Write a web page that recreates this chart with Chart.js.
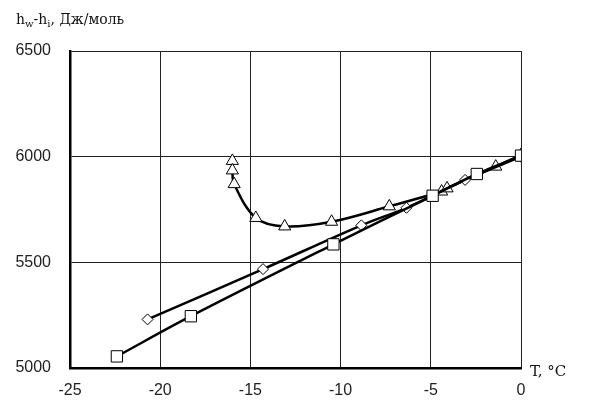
<!DOCTYPE html>
<html>
<head>
<meta charset="utf-8">
<script src="https://cdn.jsdelivr.net/npm/chart.js@4/dist/chart.umd.min.js"></script>
<style>
  html, body { margin: 0; padding: 0; background: #fff; }
  #wrap { width: 593px; height: 400px; }
</style>
</head>
<body>
<div id="wrap"><canvas id="enthalpy"></canvas></div>
<script>
// temperature, °C and enthalpy difference, J/mol for each set of measurements
var squareT   = [-22.4, -18.3, -10.4, -4.9, -2.45, 0];
var squareH   = [5055, 5245, 5585, 5815, 5918, 6005];

var diamondT  = [-20.7, -14.3, -8.85, -6.35, -3.1, 0];
var diamondH  = [5230, 5468, 5675, 5758, 5890, 6000];

var triangleT = [-16.0, -16.0, -15.9, -14.7, -13.1, -10.5, -7.3, -4.4, -4.1, -1.4, 0];
var triangleH = [5980, 5935, 5870, 5710, 5670, 5692, 5765, 5835, 5850, 5953, 6008];

var xTicks = [-25, -20, -15, -10, -5, 0];
var yTicks = [5000, 5500, 6000, 6500];

function pairs(xs, ys) {
  return xs.map(function (x, i) { return { x: x, y: ys[i] }; });
}

function series(xs, ys, style, radius) {
  return {
    data: pairs(xs, ys),
    showLine: true,
    tension: 0.35,
    borderColor: '#000',
    borderWidth: 2.5,
    pointStyle: style,
    pointRadius: radius,
    pointBackgroundColor: '#fff',
    pointBorderColor: '#000',
    pointBorderWidth: 1
  };
}

// axis captions, the y one with subscripts
var captions = {
  id: 'captions',
  afterDraw: function (chart) {
    var ctx = chart.ctx;
    ctx.save();
    ctx.fillStyle = '#111';
    ctx.textBaseline = 'alphabetic';
    var x = 16, y = 24;
    var parts = [
      ['h', 14, 0], ['w', 10, 3], ['-h', 14, 0], ['i', 10, 3], [', Дж/моль', 14, 0]
    ];
    parts.forEach(function (p) {
      ctx.font = p[1] + 'px "DejaVu Serif", serif';
      ctx.fillText(p[0], x, y + p[2]);
      x += ctx.measureText(p[0]).width;
    });
    ctx.font = '15px "DejaVu Serif", serif';
    ctx.fillText('T, °C', 530, 376);
    ctx.restore();
  }
};

var ctx = document.getElementById('enthalpy').getContext('2d');
new Chart(ctx, {
  type: 'scatter',
  data: {
    datasets: [
      series(squareT, squareH, 'rect', 8),
      series(diamondT, diamondH, 'rectRot', 5.5),
      series(triangleT, triangleH, 'triangle', 7)
    ]
  },
  options: {
    responsive: true,
    maintainAspectRatio: false,
    animation: false,
    layout: { padding: { left: 0, right: 72, top: 51, bottom: 0 } },
    plugins: { legend: { display: false }, tooltip: { enabled: false } },
    scales: {
      x: {
        type: 'linear',
        min: -25, max: 0,
        afterBuildTicks: function (s) { s.ticks = xTicks.map(function (v) { return { value: v }; }); },
        afterFit: function (s) { s.height = 32; },
        grid: { color: '#222', lineWidth: 1, drawTicks: false },
        border: { color: '#000', width: 2.5 },
        ticks: {
          color: '#222', padding: 13,
          font: { family: '"Liberation Sans", Arial', size: 16 },
          callback: function (v) { return String(v); }
        }
      },
      y: {
        type: 'linear',
        min: 5000, max: 6500,
        afterBuildTicks: function (s) { s.ticks = yTicks.map(function (v) { return { value: v }; }); },
        afterFit: function (s) { s.width = 70; },
        grid: { color: '#222', lineWidth: 1, drawTicks: false },
        border: { color: '#000', width: 2.5 },
        ticks: {
          color: '#222', padding: 19,
          font: { family: '"Liberation Sans", Arial', size: 16 },
          callback: function (v) { return String(v); }
        }
      }
    }
  },
  plugins: [captions]
});
</script>
</body>
</html>
